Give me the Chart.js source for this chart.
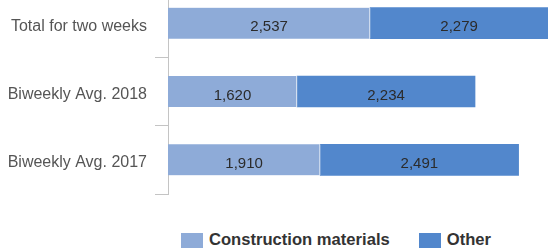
<!DOCTYPE html>
<html>
<head>
<meta charset="utf-8">
<script src="https://cdn.jsdelivr.net/npm/chart.js@4.4.0/dist/chart.umd.min.js"></script>
<style>
  html, body { margin: 0; padding: 0; background: #fff; overflow: hidden; }
  body { width: 548px; height: 251px; position: relative; font-family: "Liberation Sans", Arial, sans-serif; }
  #wrap { position: absolute; left: 0; top: -11px; width: 548px; height: 208px; }
  #legend { position: absolute; left: 181px; top: 230px; display: flex; align-items: center;
            font-weight: bold; font-size: 16.6px; color: #333; white-space: nowrap; }
  #legend .item { display: flex; align-items: center; margin-right: 29px; }
  #legend .box { width: 22px; height: 15px; margin-right: 6px; }
</style>
</head>
<body>
<div id="wrap"><canvas id="chart"></canvas></div>
<div id="legend"></div>
<script>
'use strict';

// ── Data ─────────────────────────────────────
const CATEGORIES   = ['Total for two weeks', 'Biweekly Avg. 2018', 'Biweekly Avg. 2017'];
const CONSTRUCTION = [2537, 1620, 1910];
const OTHER        = [2279, 2234, 2491];
const SERIES_NAMES = ['Construction materials', 'Other'];
const COLORS       = ['#8eabd8', '#5287cc'];

// ── Value labels centred in each bar segment ──
const barLabels = {
  id: 'barLabels',
  afterDatasetsDraw(chart) {
    const ctx = chart.ctx;
    const area = chart.chartArea;
    ctx.save();
    ctx.font = '15px "Liberation Sans", Arial, sans-serif';
    ctx.fillStyle = '#2b2b2b';
    ctx.textAlign = 'center';
    ctx.textBaseline = 'middle';
    chart.data.datasets.forEach((ds, i) => {
      chart.getDatasetMeta(i).data.forEach((bar, j) => {
        const left  = Math.max(Math.min(bar.x, bar.base), area.left);
        const right = Math.min(Math.max(bar.x, bar.base), area.right);
        ctx.fillText(ds.data[j].toLocaleString('en-US'), (left + right) / 2, bar.y + 4);
      });
    });
    ctx.restore();
  }
};

const ctx = document.getElementById('chart').getContext('2d');
new Chart(ctx, {
  type: 'bar',
  data: {
    labels: CATEGORIES,
    datasets: [
      { label: SERIES_NAMES[0], data: CONSTRUCTION, backgroundColor: COLORS[0],
        borderColor: '#ffffff', borderWidth: { right: 1 }, borderSkipped: false, barThickness: 31 },
      { label: SERIES_NAMES[1], data: OTHER, backgroundColor: COLORS[1], barThickness: 31 }
    ]
  },
  options: {
    indexAxis: 'y',
    responsive: true, maintainAspectRatio: false,
    animation: false,
    layout: { padding: { top: 0, right: 0, left: 0, bottom: 3 } },
    plugins: { legend: { display: false }, tooltip: { enabled: false } },
    scales: {
      x: { stacked: true, display: false, min: 0, max: 4770 },
      y: {
        stacked: true,
        border: { color: '#c4c4c4', width: 1 },
        grid: { offset: true, drawOnChartArea: false, color: '#c4c4c4', tickLength: 13 },
        ticks: { color: '#555', padding: 8, labelOffset: 3,
                 font: { family: '"Liberation Sans", Arial, sans-serif', size: 16 } },
        afterFit: s => { s.width = 168; s.paddingTop = 0; s.paddingBottom = 0; }
      }
    }
  },
  plugins: [barLabels]
});

// ── Legend ───────────────────────────────────
document.getElementById('legend').innerHTML = SERIES_NAMES.map((n, i) =>
  `<div class="item"><span class="box" style="background:${COLORS[i]}"></span>${n}</div>`).join('');
</script>
</body>
</html>
